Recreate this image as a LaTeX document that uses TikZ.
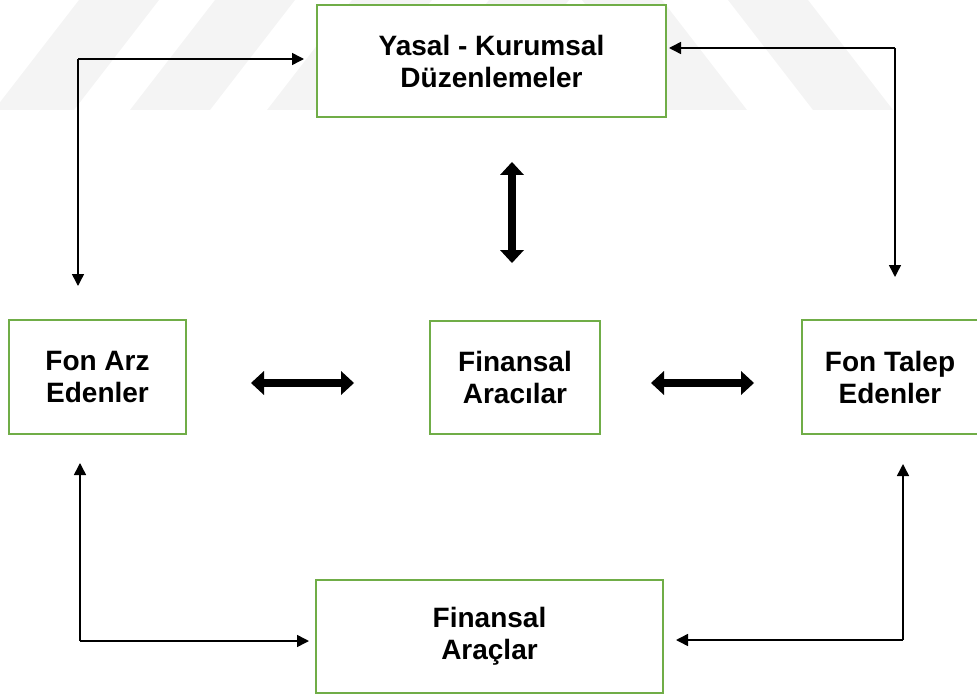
\documentclass[tikz,border=0pt]{standalone}
\usepackage{fontspec}
\setmainfont{Liberation Sans}
\usepackage{xcolor}
\usetikzlibrary{arrows.meta}

\definecolor{boxgreen}{RGB}{112,173,71}
\definecolor{stripegray}{RGB}{244,244,244}

\tikzset{
  box/.style={draw=boxgreen, line width=2pt, fill=white, align=center,
    inner sep=0pt, font=\fontsize{28}{32}\selectfont\bfseries},
  flow/.style={line width=1.5pt, -{Triangle[length=12pt,width=12pt]}},
  bigtip/.tip={Triangle[length=13pt,width=24pt,line width=0pt]},
  bigflow/.style={line width=8pt, bigtip-bigtip}
}

\begin{document}
\begin{tikzpicture}[x=1pt, y=-1pt]
      \useasboundingbox (0,0) rectangle (977,695);
      % watermark stripes
      \fill[stripegray] (-6,110) -- (74,110) -- (159,0) -- (79,0) -- cycle;
      \fill[stripegray] (130,110) -- (210,110) -- (295,0) -- (215,0) -- cycle;
      \fill[stripegray] (267,110) -- (347,110) -- (432,0) -- (352,0) -- cycle;
      \fill[stripegray] (404,110) -- (484,110) -- (569,0) -- (489,0) -- cycle;
      \fill[stripegray] (582,0) -- (662,0) -- (747,110) -- (667,110) -- cycle;
      \fill[stripegray] (728,0) -- (808,0) -- (893,110) -- (813,110) -- cycle;

      \node[box, minimum width=349pt, minimum height=112pt] (yasal) at (491.5,61) {Yasal - Kurumsal\\Düzenlemeler};
      \node[box, minimum width=177pt, minimum height=114pt] (arz) at (97.5,377) {Fon Arz\\Edenler};
      \node[box, minimum width=170pt, minimum height=113pt] (aracilar) at (515,377.5) {Finansal\\Aracılar};
      \node[box, minimum width=176pt, minimum height=114pt] (talep) at (890,377) {Fon Talep\\Edenler};
      \node[box, minimum width=347pt, minimum height=113pt] (araclar) at (489.5,636.5) {Finansal\\Araçlar};

      \coordinate (c1) at (78,59);
      \coordinate (c2) at (895,48);
      \coordinate (c3) at (80,641);
      \coordinate (c4) at (903,640);

      \draw[flow, shorten >=12pt] (c1) -- (c1 -| yasal.west);
      \draw[flow, shorten >=33pt] (c1) -- (c1 |- arz.north);
      \draw[flow, shorten >=2pt] (c2) -- (c2 -| yasal.east);
      \draw[flow, shorten >=42pt] (c2) -- (c2 |- talep.north);
      \draw[flow, shorten >=28pt] (c3) -- (c3 |- arz.south);
      \draw[flow, shorten >=6pt] (c3) -- (c3 -| araclar.west);
      \draw[flow, shorten >=29pt] (c4) -- (c4 |- talep.south);
      \draw[flow, shorten >=12pt] (c4) -- (c4 -| araclar.east);

      \draw[bigflow, shorten <=64pt, shorten >=75pt] ([yshift=-6pt]arz.east) -- ([yshift=-6pt]arz.east -| aracilar.west);
      \draw[bigflow, shorten <=50pt, shorten >=47pt] ([yshift=-6pt]talep.west -| aracilar.east) -- ([yshift=-6pt]talep.west);
      \draw[bigflow, shorten <=57pt, shorten >=44pt] ([xshift=-3pt]aracilar.north) -- ([xshift=-3pt]aracilar.north |- yasal.south);
    \end{tikzpicture}
\end{document}
